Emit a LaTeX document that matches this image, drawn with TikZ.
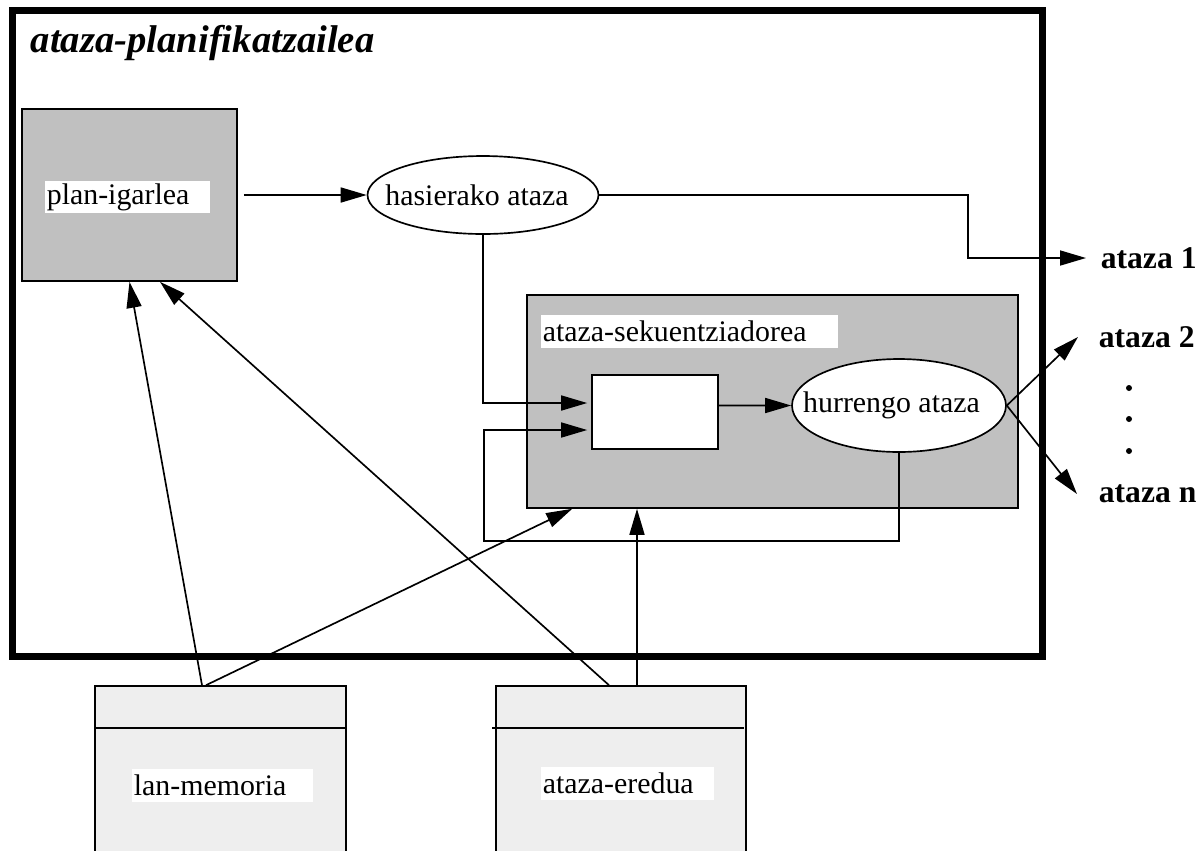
\documentclass[tikz,border=0pt]{standalone}
\usepackage{fontspec}
\setmainfont{Liberation Serif}
\usepackage{xcolor}
\usetikzlibrary{shapes.geometric,arrows.meta}
\definecolor{boxgray}{RGB}{192,192,192}
\definecolor{storegray}{RGB}{238,238,238}

\begin{document}
\begin{tikzpicture}[x=0.02cm,y=-0.02cm,line width=0.95pt,
  box/.style={draw,fill=boxgray,inner sep=0},
  store/.style={draw,fill=storegray,inner sep=0,minimum height=3.68cm},
  oval/.style={draw,ellipse,fill=white,inner sep=0},
  lbl/.style={fill=white,anchor=west,inner xsep=0.04cm,inner ysep=0,align=left,font=\fontsize{17}{19}\selectfont},
  txt/.style={inner sep=0,font=\fontsize{17}{19}\selectfont},
  outlbl/.style={anchor=west,inner sep=0,font=\fontsize{18}{21}\selectfont\bfseries},
  arr/.style={-{Triangle[length=0.52cm,width=0.3cm]}}]
\useasboundingbox (0,0) rectangle (1201,850);

\node[draw,line width=4pt,minimum width=20.62cm,minimum height=12.94cm,inner sep=0] (frame) at (527.5,333.5) {};
\node[anchor=base west,inner sep=0,font=\fontsize{22}{26}\selectfont\bfseries\itshape] (title) at (30,52) {ataza-planifikatzailea};

\node[box,minimum width=4.3cm,minimum height=3.44cm] (plan) at (129.5,195) {};
\node[lbl,text width=3.22cm,minimum height=0.64cm] (planlbl) at (44,197) {plan-igarlea};
\node[oval,minimum width=4.62cm,minimum height=1.56cm] (hasi) at (483,195) {};
\node[txt] (hasilbl) at ([xshift=-0.12cm]hasi.center) {hasierako ataza};

\node[box,minimum width=9.82cm,minimum height=4.26cm] (sek) at (772.5,401.5) {};
\node[lbl,text width=5.86cm,minimum height=0.66cm] (seklbl) at (540,331.5) {ataza-sekuentziadorea};
\node[draw,fill=white,minimum width=2.52cm,minimum height=1.48cm,inner sep=0] (inner) at (655,412) {};
\node[oval,minimum width=4.28cm,minimum height=1.86cm] (hurr) at (899,405.5) {};
\node[txt] (hurrlbl) at ([xshift=-0.15cm]hurr.center) {hurrengo ataza};

\node[store,minimum width=5.02cm] (lan) at (220.5,778) {};
\draw ([yshift=-0.86cm]lan.north west) -- ([yshift=-0.86cm]lan.north east);
\node[lbl,text width=3.54cm,minimum height=0.66cm] (lanlbl) at (131,785.5) {lan-memoria};
\node[store,minimum width=5cm] (ered) at (621,778) {};
\draw ([yshift=-0.86cm,xshift=-0.06cm]ered.north west) -- ([yshift=-0.86cm,xshift=-0.06cm]ered.north east);
\node[lbl,text width=3.38cm,minimum height=0.66cm] (eredlbl) at (540,783.5) {ataza-eredua};

\node[outlbl] (a1) at (1100,258) {ataza 1};
\node[outlbl] (a2) at (1098,337) {ataza 2};
\node[outlbl] (an) at (1098,494) {ataza n};
\foreach \y in {388,419,451} {\fill (1129,\y) circle (0.06cm);}

\draw[arr] ([xshift=0.12cm]plan.east) -- (hasi.west);
\draw[arr,shorten >=0.28cm] (hasi.east) -- ++(369,0) |- (a1.west);
\draw[arr] (hasi.south) |- ([yshift=0.18cm,xshift=-0.08cm]inner.west);
\coordinate (fb) at (484,541);
\draw[arr] (hurr.south) |- (fb) |- ([yshift=-0.36cm,xshift=-0.08cm]inner.west);
\draw[arr] ([yshift=0.13cm]inner.east) -- (hurr.west);
\draw[arr] (hurr.east) -- ([xshift=-0.4cm]a2.west);
\draw[arr] (hurr.east) -- ([xshift=-0.42cm]an.west);

\draw[arr] ([xshift=-0.37cm]lan.north) -- (plan.south);
\draw[arr] ([xshift=-0.29cm]lan.north) -- ([xshift=0.92cm]sek.south west);
\draw[arr] ([xshift=-0.24cm]ered.north) -- ([xshift=0.61cm]plan.south);
\draw[arr] ([xshift=0.32cm]ered.north) -- ([xshift=0.32cm]ered.north |- sek.south);
\end{tikzpicture}
\end{document}
